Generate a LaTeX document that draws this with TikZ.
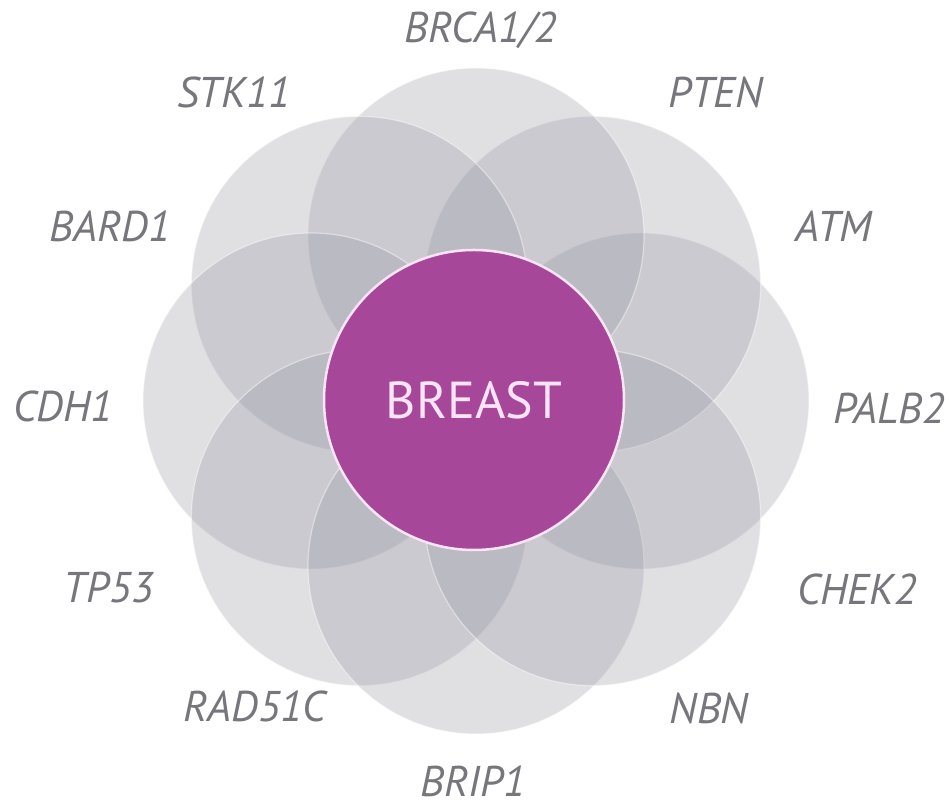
\documentclass[tikz,border=0pt]{standalone}
\usepackage{fontspec}
\setmainfont{PT Sans}
\usepackage{tikz}

\definecolor{petalgray}{RGB}{148,148,160}
\definecolor{breastpurple}{RGB}{166,71,154}
\definecolor{breastpink}{RGB}{250,228,246}
\definecolor{genegray}{RGB}{118,118,124}

\begin{document}
\begin{tikzpicture}[x=1pt, y=1pt,
    petal/.style={circle, fill=petalgray, fill opacity=0.29, draw=white, draw opacity=0.45,
        line width=1.2pt, minimum size=336pt, inner sep=0pt},
    gene/.style={anchor=base, inner sep=1pt, text=genegray, font=\fontsize{43}{50}\selectfont\itshape}]
        % Define coordinates
        \useasboundingbox (0,0) rectangle (950,810);
        \coordinate (center) at (476,409);

        % Draw the eight overlapping petals
        \foreach \a in {0,45,...,315}
            \node[petal] (petal-\a) at ([shift={(\a:165)}]center) {};

        % Draw the breast circle on top
        \node[circle, fill=breastpurple, draw=breastpink, line width=2.5pt, minimum size=300pt,
            inner sep=0pt, text=breastpink, font=\fontsize{52}{60}\selectfont] (breast) at (474,410) {BREAST};

        % Gene names round the flower
        \node[gene] (brca) at (481,767) {BRCA1/2};
        \node[gene] (stk) at (234,702) {STK11};
        \node[gene] (pten) at (716,702) {PTEN};
        \node[gene] (bard) at (110,568) {BARD1};
        \node[gene] (atm) at (834,568) {ATM};
        \node[gene] (cdh) at (63,388) {CDH1};
        \node[gene] (palb) at (889,386) {PALB2};
        \node[gene] (tp) at (109,207) {TP53};
        \node[gene] (chek) at (857,205) {CHEK2};
        \node[gene] (rad) at (255,88) {RAD51C};
        \node[gene] (nbn) at (709,86) {NBN};
        \node[gene] (brip) at (473,13) {BRIP1};
      \end{tikzpicture}
\end{document}
